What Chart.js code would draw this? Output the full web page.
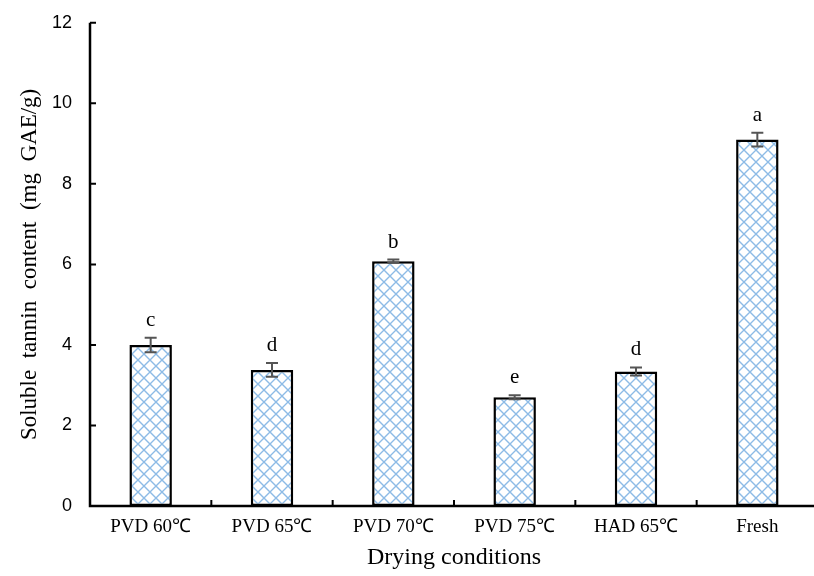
<!DOCTYPE html>
<html><head><meta charset="utf-8">
<script src="https://cdn.jsdelivr.net/npm/chart.js@4/dist/chart.umd.min.js"></script>
<style>
html,body{margin:0;padding:0;background:#fff;overflow:hidden;}
#wrap{width:822px;height:582px;margin-top:-6px;position:relative;}
</style></head>
<body><div id="wrap"><canvas id="c"></canvas></div>
<script>
const categories = ['PVD 60\u2103', 'PVD 65\u2103', 'PVD 70\u2103', 'PVD 75\u2103', 'HAD 65\u2103', 'Fresh'];
const tanninValues = [4.0, 3.38, 6.08, 2.70, 3.34, 9.10];
const tanninErrors = [0.18, 0.17, 0.04, 0.05, 0.10, 0.17];
const sigLetters = ['c', 'd', 'b', 'e', 'd', 'a'];
const yTicks = [0, 2, 4, 6, 8, 10, 12];

function makePattern() {
  const s = 12;
  const p = document.createElement('canvas');
  p.width = s; p.height = s;
  const g = p.getContext('2d');
  g.fillStyle = '#ffffff';
  g.fillRect(0, 0, s, s);
  g.strokeStyle = '#8dbbe6';
  g.lineWidth = 1.4;
  g.beginPath();
  g.moveTo(-1, -1); g.lineTo(s + 1, s + 1);
  g.moveTo(-1, s + 1); g.lineTo(s + 1, -1);
  g.stroke();
  return document.getElementById('c').getContext('2d').createPattern(p, 'repeat');
}

const extras = {
  id: 'extras',
  afterDatasetsDraw(chart) {
    const ctx = chart.ctx;
    const x = chart.scales.x, y = chart.scales.y;
    const area = chart.chartArea;
    ctx.save();
    ctx.strokeStyle = '#555555';
    ctx.lineWidth = 2;
    tanninValues.forEach((v, i) => {
      const px = x.getPixelForValue(i);
      const top = y.getPixelForValue(v + tanninErrors[i]);
      const bot = y.getPixelForValue(v - tanninErrors[i]);
      ctx.beginPath();
      ctx.moveTo(px, top); ctx.lineTo(px, bot);
      ctx.moveTo(px - 6, top); ctx.lineTo(px + 6, top);
      ctx.moveTo(px - 6, bot); ctx.lineTo(px + 6, bot);
      ctx.stroke();
      ctx.fillStyle = '#000';
      ctx.font = '21px "Liberation Serif"';
      ctx.textAlign = 'center';
      ctx.textBaseline = 'alphabetic';
      ctx.fillText(sigLetters[i], px, top - 12);
    });
    ctx.strokeStyle = '#000';
    ctx.lineWidth = 2.5;
    ctx.beginPath();
    ctx.moveTo(area.left, area.top); ctx.lineTo(area.left, area.bottom);
    ctx.lineTo(area.right, area.bottom);
    ctx.stroke();
    ctx.lineWidth = 2;
    ctx.beginPath();
    yTicks.forEach(t => {
      const py = y.getPixelForValue(t);
      ctx.moveTo(area.left, py); ctx.lineTo(area.left + 6, py);
    });
    for (let i = 1; i < categories.length; i++) {
      const bx = (x.getPixelForValue(i - 1) + x.getPixelForValue(i)) / 2;
      ctx.moveTo(bx, area.bottom); ctx.lineTo(bx, area.bottom - 6);
    }
    ctx.stroke();
    ctx.restore();
  }
};

const chart = new Chart(document.getElementById('c'), {
  type: 'bar',
  data: {
    labels: categories,
    datasets: [{
      data: tanninValues,
      backgroundColor: makePattern(),
      borderColor: '#000',
      borderWidth: 2.5,
      borderSkipped: false,
      barPercentage: 0.35,
      categoryPercentage: 1.0
    }]
  },
  plugins: [extras],
  options: {
    responsive: true,
    maintainAspectRatio: false,
    animation: false,
    layout: { padding: { top: 0, right: 4, left: 0, bottom: 0 } },
    plugins: { legend: { display: false }, tooltip: { enabled: false } },
    scales: {
      x: {
        offset: true,
        grid: { display: false, drawTicks: false },
        border: { display: false },
        ticks: { color: '#000', font: { family: '"Liberation Serif"', size: 19 }, padding: 10, maxRotation: 0 },
        title: { display: true, text: 'Drying conditions', color: '#000', font: { family: '"Liberation Serif"', size: 24 }, padding: { top: 2 } },
        afterFit(s) { s.height = 70; }
      },
      y: {
        min: 0, max: 12,
        afterBuildTicks(s) { s.ticks = yTicks.map(v => ({ value: v })); },
        grid: { display: false, drawTicks: false },
        border: { display: false },
        ticks: { color: '#000', font: { family: '"Liberation Sans"', size: 18 }, padding: 18 },
        title: { display: true, text: 'Soluble  tannin  content  (mg  GAE/g)', color: '#000', font: { family: '"Liberation Serif"', size: 23 }, padding: { bottom: 0, top: 16 } },
        afterFit(s) { s.width = 90; }
      }
    }
  }
});
</script></body></html>
